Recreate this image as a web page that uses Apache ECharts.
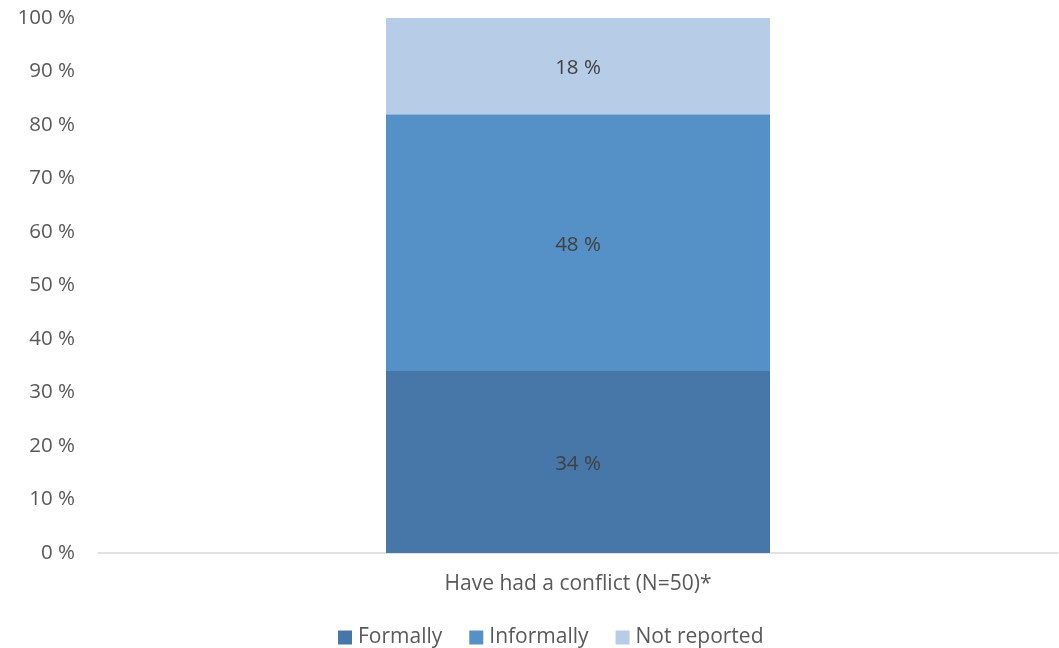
<!DOCTYPE html>
<html>
<head>
<meta charset="utf-8">
<script src="https://cdn.jsdelivr.net/npm/echarts@6/dist/echarts.min.js"></script>
<style>
  html, body { margin: 0; padding: 0; background: #fff; }
  #chart { width: 1059px; height: 648px; }
</style>
</head>
<body>
<div id="chart"></div>
<script>
// Conflict reporting, share of respondents (percent)
const categories = ['Have had a conflict (N=50)*'];
const formally = [34];
const informally = [48];
const notReported = [18];
const seriesNames = ['Formally', 'Informally', 'Not reported'];
const seriesColors = ['#4677A8', '#5590C7', '#B7CCE7'];

const FONT = '"Open Sans", Lato, sans-serif';

const chart = echarts.init(document.getElementById('chart'));

const label = {
  show: true,
  position: 'inside',
  formatter: p => p.value + ' %',
  color: '#404040',
  fontFamily: FONT,
  fontSize: 20.5,
  offset: [0, 2]
};

chart.setOption({
  animation: false,
  grid: { left: 98, right: 1, top: 18, bottom: 95, containLabel: false },
  legend: {
    bottom: -5,
    left: 333,
    itemWidth: 14,
    itemHeight: 14,
    itemGap: 27,
    icon: 'rect',
    textStyle: { color: '#595959', fontFamily: FONT, fontSize: 21, padding: [0, 0, 0, 1] },
    data: seriesNames
  },
  xAxis: {
    type: 'category',
    data: categories,
    axisLine: { lineStyle: { color: '#d9d9d9', width: 1.5 } },
    axisTick: { show: false },
    axisLabel: { color: '#595959', fontFamily: FONT, fontSize: 21, margin: 21 }
  },
  yAxis: {
    type: 'value',
    min: 0,
    max: 100,
    interval: 10,
    axisLine: { show: false },
    axisTick: { show: false },
    splitLine: { show: false },
    axisLabel: {
      color: '#595959',
      fontFamily: FONT,
      fontSize: 20.5,
      margin: 23,
      formatter: v => v + ' %'
    }
  },
  series: [
    { name: seriesNames[0], type: 'bar', stack: 'total', barWidth: '40%', data: formally, itemStyle: { color: seriesColors[0] }, label },
    { name: seriesNames[1], type: 'bar', stack: 'total', barWidth: '40%', data: informally, itemStyle: { color: seriesColors[1] }, label },
    { name: seriesNames[2], type: 'bar', stack: 'total', barWidth: '40%', data: notReported, itemStyle: { color: seriesColors[2] }, label }
  ]
});
</script>
</body>
</html>
